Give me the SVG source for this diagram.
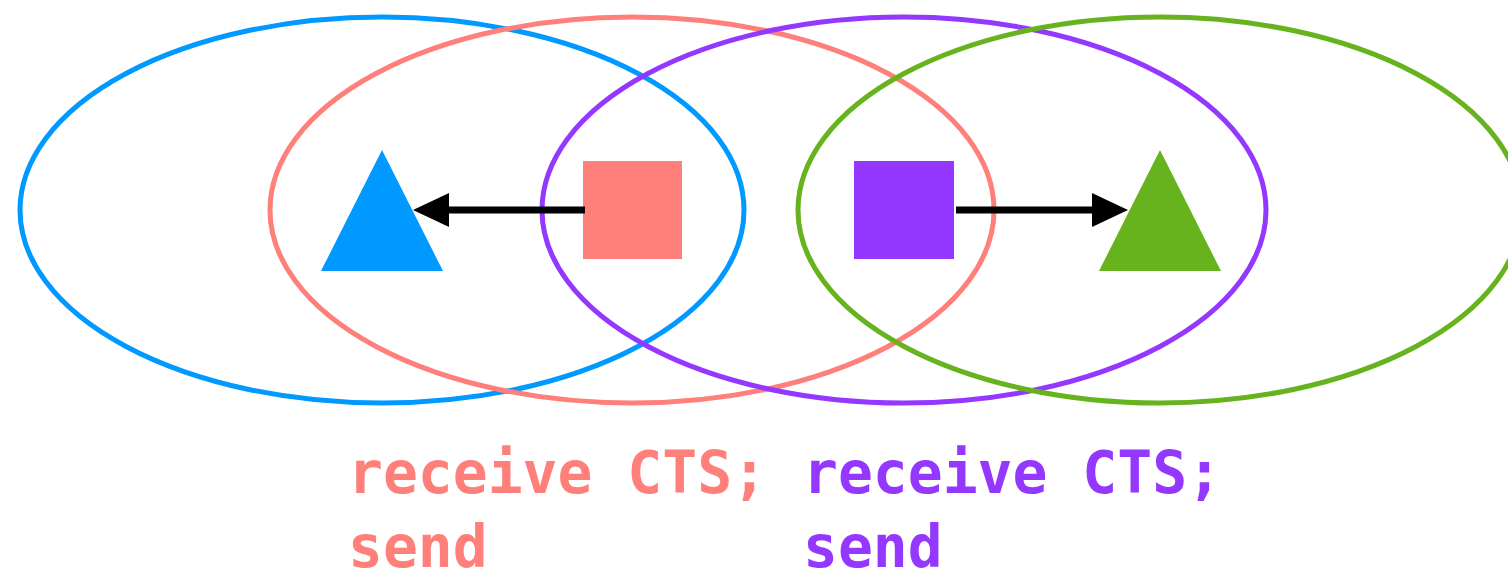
<svg xmlns="http://www.w3.org/2000/svg" width="1508" height="571" viewBox="0 0 1508 571">
  <style>
    .range { fill: none; stroke-width: 5; }
    .link { stroke: #000; stroke-width: 7; fill: none; }
    .label { font-family: "DejaVu Sans Mono", "Liberation Mono", monospace; font-weight: bold; font-size: 58px; }
  </style>
  <defs>
    <marker id="head" viewBox="0 0 36 34" refX="0" refY="17" markerWidth="36" markerHeight="34" markerUnits="userSpaceOnUse" orient="auto">
      <path d="M0,0 L36,17 L0,34 Z" fill="#000"/>
    </marker>
  </defs>
  <rect width="1508" height="571" fill="#fff"/>

  <!-- transmission ranges -->
  <g id="ranges">
    <ellipse id="range-blue" class="range" cx="382" cy="210" rx="362" ry="193" stroke="#0099ff"/>
    <ellipse id="range-red" class="range" cx="632" cy="210" rx="362" ry="193" stroke="#ff7f7a"/>
    <ellipse id="range-purple" class="range" cx="904" cy="210" rx="362" ry="193" stroke="#9438ff"/>
    <ellipse id="range-green" class="range" cx="1160" cy="210" rx="362" ry="193" stroke="#66b31e"/>
  </g>

  <!-- stations -->
  <g id="node-blue-triangle">
    <polygon points="382,150 443,271 321,271" fill="#0099ff"/>
  </g>
  <g id="node-red-square">
    <rect x="583" y="161" width="99" height="98" fill="#ff7f7a"/>
  </g>
  <g id="node-purple-square">
    <rect x="854" y="161" width="100" height="98" fill="#9438ff"/>
  </g>
  <g id="node-green-triangle">
    <polygon points="1160,150 1221,271 1099,271" fill="#66b31e"/>
  </g>

  <!-- transmissions -->
  <g id="connectors">
    <line class="link" x1="585" y1="210" x2="449" y2="210" marker-end="url(#head)"/>
    <line class="link" x1="956" y1="210" x2="1092" y2="210" marker-end="url(#head)"/>
  </g>

  <!-- captions -->
  <g id="captions" class="label">
    <text x="348" y="493" fill="#ff7f7a">receive CTS;</text>
    <text x="348" y="567" fill="#ff7f7a">send</text>
    <text x="803" y="493" fill="#9438ff">receive CTS;</text>
    <text x="803" y="567" fill="#9438ff">send</text>
  </g>
</svg>
